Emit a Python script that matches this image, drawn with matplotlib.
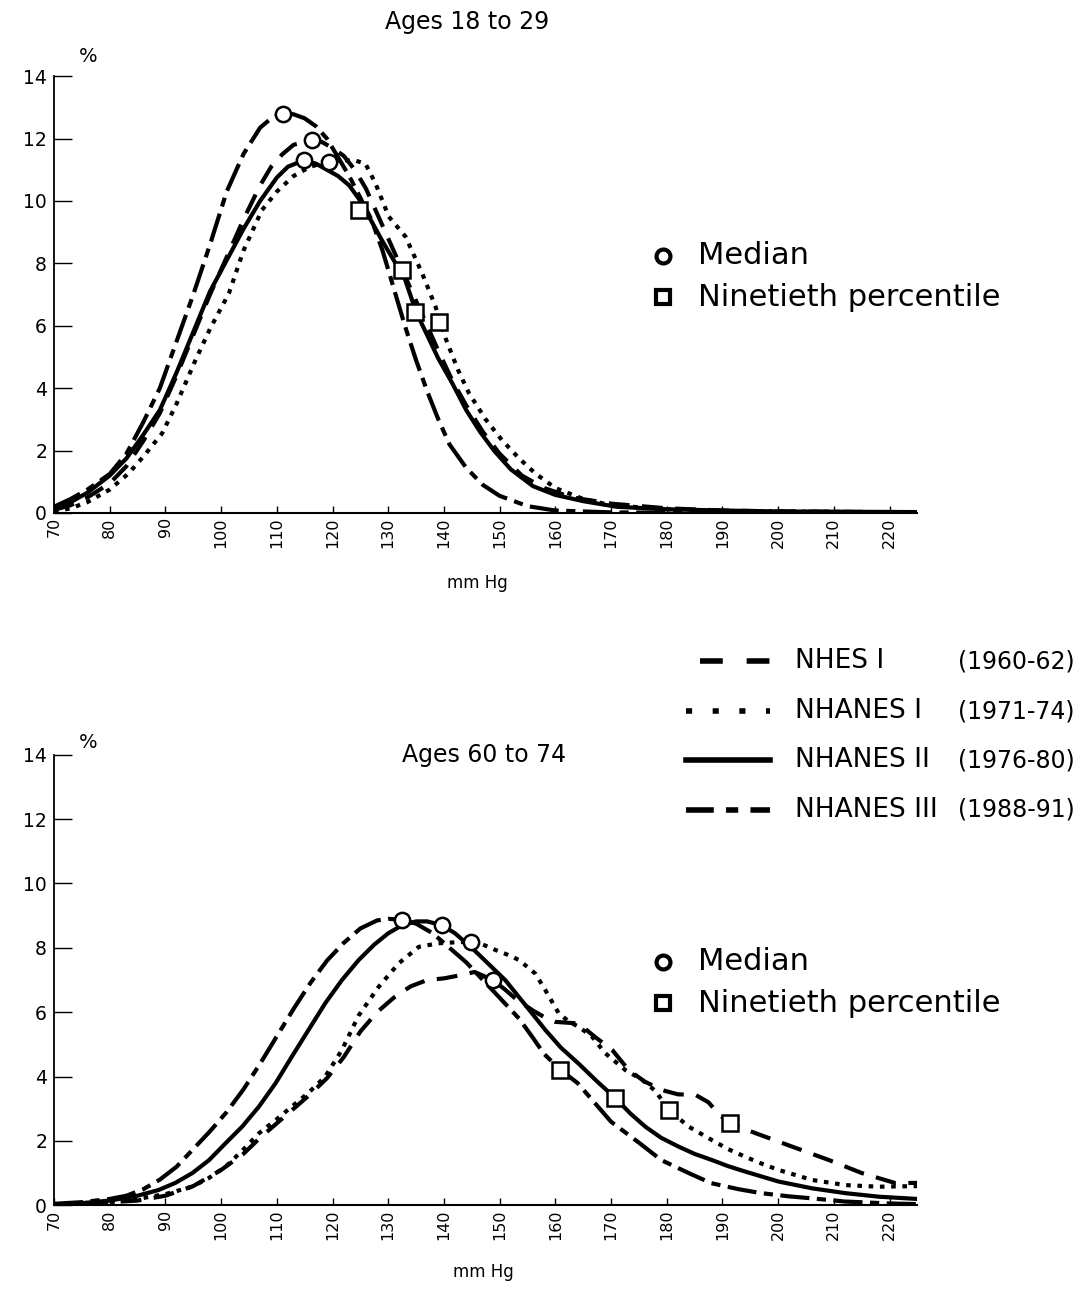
import matplotlib
matplotlib.use("Agg")
import matplotlib.pyplot as plt
from matplotlib.lines import Line2D

# ---------------- data ----------------
series_names = ["NHES I", "NHANES I", "NHANES II", "NHANES III"]
series_years = ["(1960-62)", "(1971-74)", "(1976-80)", "(1988-91)"]

# Ages 18 to 29
top_x_nhes1 = [70, 73, 76, 80, 83, 86, 89, 92, 95, 98, 101, 104, 107, 109, 111, 113, 116.4, 118, 120, 122, 124, 126,
               128, 130, 132.5, 135, 137, 139, 141.5, 144, 147, 150, 154, 158, 163, 170, 180, 190, 200, 225]
top_y_nhes1 = [0.1, 0.25, 0.5, 0.95, 1.5, 2.3, 3.2, 4.4, 5.7, 7.0, 8.2, 9.4, 10.5, 11.1, 11.5, 11.8, 11.96, 11.9, 11.7,
               11.45, 11.0, 10.4, 9.6, 8.8, 7.8, 6.8, 6.0, 5.2, 4.25, 3.45, 2.6, 1.9, 1.2, 0.8, 0.5, 0.3, 0.15, 0.08,
               0.05, 0.02]
top_x_nhanes1 = [70, 73, 76, 80, 83.4, 86, 89.4, 92, 95.4, 98, 101.4, 104, 107.3, 110, 113, 116, 119.3, 122.3, 124,
                 125.9, 127.7, 130.1, 133.1, 136.1, 138.5, 140.3, 142.5, 144.5, 147.5, 150.4, 153.5, 156.4, 160, 165,
                 170, 180, 190, 225]
top_y_nhanes1 = [0.05, 0.15, 0.35, 0.75, 1.27, 1.8, 2.55, 3.5, 4.9, 5.9, 7.04, 8.4, 9.7, 10.3, 10.8, 11.1, 11.26, 11.3,
                 11.3, 11.2, 10.57, 9.5, 8.86, 7.68, 6.61, 5.6, 4.6, 3.84, 3.0, 2.34, 1.75, 1.27, 0.8, 0.45, 0.25, 0.12,
                 0.06, 0.02]
top_x_nhanes2 = [70, 73, 76, 80, 83, 86, 89, 92, 95, 98, 101, 104, 107, 110, 112, 114.8, 117, 119, 121, 123, 125, 127,
                 129, 131, 133, 135, 137, 139, 141.5, 144, 146.5, 149, 152, 156, 160, 165, 171, 180, 190, 200, 225]
top_y_nhanes2 = [0.15, 0.35, 0.65, 1.2, 1.75, 2.5, 3.3, 4.5, 5.8, 7.1, 8.1, 9.1, 10.0, 10.75, 11.1, 11.3, 11.2, 11.0,
                 10.8, 10.5, 10.0, 9.35, 8.7, 8.1, 7.5, 6.45, 5.7, 4.95, 4.16, 3.3, 2.6, 2.0, 1.4, 0.86, 0.58, 0.38,
                 0.2, 0.12, 0.08, 0.05, 0.03]
top_x_nhanes3 = [70, 73, 76, 80, 83, 86, 89, 92, 95, 98, 101, 104, 107, 109, 111, 113, 115, 117, 119, 121, 123, 125,
                 127, 129, 131, 133, 135, 137, 139, 141, 144, 147, 150, 155, 160, 170, 180, 225]
top_y_nhanes3 = [0.2, 0.45, 0.75, 1.25, 1.9, 2.9, 4.0, 5.5, 7.0, 8.6, 10.3, 11.5, 12.35, 12.65, 12.8, 12.78, 12.65,
                 12.4, 12.0, 11.4, 10.8, 10.1, 9.4, 8.4, 7.2, 6.0, 4.9, 3.9, 3.0, 2.2, 1.45, 0.9, 0.55, 0.22, 0.08,
                 0.02, 0.01, 0.0]
top_median_x = [116.4, 119.3, 114.8, 111.2]
top_median_y = [11.96, 11.26, 11.3, 12.8]
top_p90_x = [132.5, 139.1, 134.9, 124.7]
top_p90_y = [7.79, 6.13, 6.45, 9.71]

# Ages 60 to 74
bot_x_nhes1 = [70, 75, 80, 85, 90, 95, 100, 104, 107, 110, 113, 116, 119, 122, 125, 128, 131, 134, 137, 140, 143,
               145.5, 148.8, 151, 153, 156, 158, 160, 164.2, 167, 170.2, 173.2, 176, 179.2, 182, 185.2, 187.5, 189.5,
               191.3, 196, 202.6, 209.1, 215.1, 221.1, 225]
bot_y_nhes1 = [0.02, 0.05, 0.1, 0.15, 0.3, 0.6, 1.1, 1.6, 2.1, 2.55, 3.0, 3.45, 3.95, 4.6, 5.4, 6.0, 6.45, 6.8, 7.0,
               7.05, 7.15, 7.25, 7.0, 6.7, 6.4, 6.05, 5.85, 5.7, 5.65, 5.25, 4.83, 4.2, 3.85, 3.58, 3.45, 3.43, 3.2,
               2.81, 2.55, 2.24, 1.82, 1.41, 1.0, 0.69, 0.7]
bot_x_nhanes1 = [70, 75, 80, 85, 90, 94.8, 97.8, 100.8, 103.8, 106.8, 109.8, 112.7, 115.7, 118.7, 121.7, 124.7, 128.3,
                 131.9, 135.5, 139, 142, 144.8, 147, 149.3, 151.5, 153.5, 156.4, 158.2, 160.6, 162.5, 164.2, 166.6,
                 169, 172.6, 175.6, 178, 180.4, 184, 188.1, 191, 194.1, 197, 200.1, 206.1, 212.1, 218.1, 225]
bot_y_nhanes1 = [0.02, 0.05, 0.1, 0.2, 0.35, 0.58, 0.85, 1.2, 1.7, 2.24, 2.65, 3.07, 3.5, 4.0, 4.83, 5.9, 6.79, 7.52,
                 8.03, 8.14, 8.17, 8.19, 8.1, 7.93, 7.78, 7.62, 7.2, 6.69, 5.97, 5.7, 5.55, 5.24, 4.72, 4.2, 3.9,
                 3.55, 2.96, 2.44, 2.03, 1.75, 1.51, 1.3, 1.1, 0.79, 0.63, 0.58, 0.6]
bot_x_nhanes2 = [70, 75, 80, 85, 88.8, 91.8, 94.8, 97.8, 100.8, 103.8, 106.8, 109.8, 112.7, 115.7, 118.7, 121.7,
                 124.7, 127.5, 130, 132.5, 135, 137, 139.7, 142, 145, 148, 151, 154.5, 158.2, 161, 164.2, 167.5,
                 170.8, 173.5, 176.2, 179, 182.2, 185, 188.1, 191, 194.1, 197, 200.1, 206.1, 212.1, 218.1, 225]
bot_y_nhanes2 = [0.03, 0.07, 0.15, 0.3, 0.48, 0.7, 1.0, 1.4, 1.93, 2.45, 3.07, 3.8, 4.62, 5.45, 6.28, 7.0, 7.62, 8.1,
                 8.45, 8.7, 8.82, 8.82, 8.7, 8.45, 8.0, 7.5, 7.0, 6.25, 5.45, 4.9, 4.4, 3.85, 3.33, 2.85, 2.44, 2.1,
                 1.82, 1.6, 1.41, 1.22, 1.05, 0.9, 0.74, 0.53, 0.38, 0.27, 0.2]
bot_x_nhanes3 = [70, 75, 80, 83, 86, 89, 92, 95, 98, 101, 104, 107, 110, 113, 116, 119, 122, 125, 128, 130, 132.5, 135,
                 138, 141, 144, 147, 150, 153.5, 156, 158, 161, 164, 167, 170, 175, 179, 184, 188, 193, 197, 202, 206,
                 212, 220, 225]
bot_y_nhanes3 = [0.05, 0.1, 0.2, 0.3, 0.5, 0.8, 1.2, 1.75, 2.3, 2.9, 3.6, 4.4, 5.25, 6.1, 6.9, 7.6, 8.15, 8.6, 8.85,
                 8.9, 8.87, 8.75, 8.45, 8.0, 7.55, 7.0, 6.45, 5.8, 5.2, 4.7, 4.2, 3.8, 3.2, 2.6, 1.95, 1.41, 1.0, 0.69,
                 0.5, 0.38, 0.28, 0.22, 0.12, 0.06, 0.04]
bot_median_x = [148.8, 144.8, 139.7, 132.5]
bot_median_y = [7.0, 8.19, 8.7, 8.87]
bot_p90_x = [191.3, 180.4, 170.8, 160.9]
bot_p90_y = [2.55, 2.96, 3.33, 4.2]

x_ticks = list(range(70, 221, 10))
y_ticks = list(range(0, 15, 2))

# ---------------- styling ----------------
W, H = 1078, 1290
LW = 3.0
styles = {
    "NHES I": (0, (5, 3)),
    "NHANES I": (0, (1.1, 1.6)),
    "NHANES II": "-",
    "NHANES III": (0, (7, 1.8, 2.2, 1.8)),
}
legend_styles = {
    "NHES I": (0, (4.1, 4.3)),
    "NHANES I": (0, (1.1, 3.7)),
    "NHANES II": "-",
    "NHANES III": (0, (5, 2.2, 2.2, 2.2)),
}
legend_start = {"NHES I": 700, "NHANES I": 686, "NHANES II": 686, "NHANES III": 686}

fig = plt.figure(figsize=(W / 100, H / 100), dpi=100)


def fx(px):
    return px / W


def fy(py):
    return 1 - py / H


def make_axes(bottom_px, top_px, title, title_x, title_y, pct_y, mm_y, mm_x,
              curves, med_x, med_y, p90_x, p90_y):
    left_px = 54
    right_px = 54 + 155 * 5.57
    ax = fig.add_axes([fx(left_px), fy(bottom_px), (right_px - left_px) / W, (bottom_px - top_px) / H])
    for name, (xs, ys) in zip(series_names, curves):
        ax.plot(xs, ys, color="black", lw=LW, linestyle=styles[name],
                dash_capstyle="butt", solid_capstyle="round", zorder=3)
    ax.plot(med_x, med_y, linestyle="none", marker="o", ms=11, mfc="white", mec="black", mew=1.8, zorder=5)
    ax.plot(p90_x, p90_y, linestyle="none", marker="s", ms=11, mfc="white", mec="black", mew=1.8, zorder=5)
    ax.set_xlim(70, 225)
    ax.set_ylim(0, 14)
    ax.set_xticks(x_ticks)
    ax.set_xticklabels([str(v) for v in x_ticks], rotation=90, fontsize=11.5)
    ax.set_yticks(y_ticks)
    ax.set_yticklabels([str(v) for v in y_ticks], fontsize=13.5)
    ax.tick_params(axis="x", direction="in", length=5, width=1.0, pad=3)
    ax.tick_params(axis="y", direction="in", length=13, width=1.0, pad=5)
    for s in ["top", "right"]:
        ax.spines[s].set_visible(False)
    ax.spines["left"].set_linewidth(1.3)
    ax.spines["bottom"].set_linewidth(1.5)
    fig.text(fx(title_x), fy(title_y), title, ha="center", va="center", fontsize=17)
    fig.text(fx(88), fy(pct_y), "%", ha="center", va="center", fontsize=14)
    fig.text(fx(mm_x), fy(mm_y), "mm Hg", ha="center", va="center", fontsize=12)
    return ax


make_axes(513, 513 - 14 * 31.2, "Ages 18 to 29", 467, 22, 57, 583, 477,
          [(top_x_nhes1, top_y_nhes1), (top_x_nhanes1, top_y_nhanes1),
           (top_x_nhanes2, top_y_nhanes2), (top_x_nhanes3, top_y_nhanes3)],
          top_median_x, top_median_y, top_p90_x, top_p90_y)
make_axes(1205.4, 1205.4 - 14 * 32.2, "Ages 60 to 74", 484, 755, 742, 1272, 483,
          [(bot_x_nhes1, bot_y_nhes1), (bot_x_nhanes1, bot_y_nhanes1),
           (bot_x_nhanes2, bot_y_nhanes2), (bot_x_nhanes3, bot_y_nhanes3)],
          bot_median_x, bot_median_y, bot_p90_x, bot_p90_y)

# Median / Ninetieth percentile keys
for y_med, y_p90 in [(256, 297), (962, 1003)]:
    fig.add_artist(Line2D([fx(663)], [fy(y_med)], transform=fig.transFigure, marker="o", ms=10,
                          mfc="white", mec="black", mew=3, linestyle="none"))
    fig.add_artist(Line2D([fx(663)], [fy(y_p90)], transform=fig.transFigure, marker="s", ms=10,
                          mfc="white", mec="black", mew=3, linestyle="none"))
    fig.text(fx(698), fy(y_med), "Median", ha="left", va="center", fontsize=22)
    fig.text(fx(698), fy(y_p90), "Ninetieth percentile", ha="left", va="center", fontsize=22)

# Survey legend
for i, (name, yr) in enumerate(zip(series_names, series_years)):
    yy = [661, 711, 760, 810][i]
    fig.add_artist(Line2D([fx(legend_start[name]), fx(770)], [fy(yy), fy(yy)], transform=fig.transFigure,
                          color="black", lw=LW + 1, linestyle=legend_styles[name], dash_capstyle="butt"))
    fig.text(fx(795), fy(yy), name, ha="left", va="center", fontsize=19)
    fig.text(fx(1075), fy(yy), yr, ha="right", va="center", fontsize=17)

fig.savefig("out.png", dpi=100)
